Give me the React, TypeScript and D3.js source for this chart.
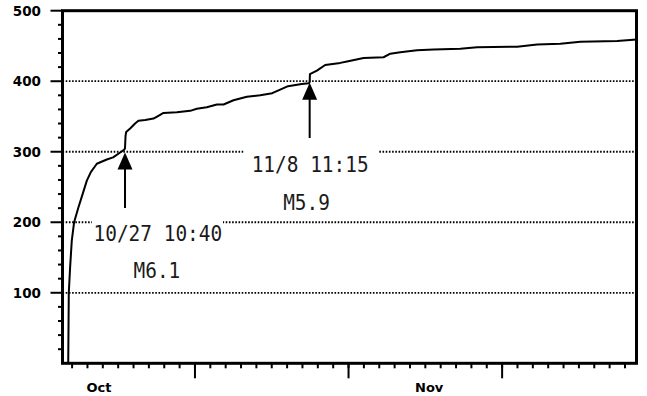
import React from "react";
import * as d3 from "d3";

// cumulative count of aftershocks
const times = [
  "2004-10-23T17:56", "2004-10-23T18:50", "2004-10-23T20:53", "2004-10-23T23:31",
  "2004-10-24T03:07", "2004-10-24T09:50", "2004-10-24T16:48", "2004-10-24T23:02",
  "2004-10-25T05:17", "2004-10-25T14:38", "2004-10-26T06:14", "2004-10-26T16:05",
  "2004-10-27T03:07", "2004-10-27T09:36", "2004-10-27T10:40", "2004-10-27T11:30",
  "2004-10-27T12:29", "2004-10-27T18:43", "2004-10-28T02:24", "2004-10-28T07:41",
  "2004-10-28T18:14", "2004-10-29T07:12", "2004-10-29T14:53", "2004-10-29T22:48",
  "2004-10-30T19:41", "2004-10-31T16:34", "2004-11-01T02:53", "2004-11-01T18:29",
  "2004-11-02T10:19", "2004-11-02T20:38", "2004-11-03T12:14", "2004-11-04T09:07",
  "2004-11-05T06:00", "2004-11-06T00:43", "2004-11-06T13:12", "2004-11-07T01:26",
  "2004-11-07T22:48", "2004-11-08T10:00", "2004-11-08T11:15", "2004-11-08T11:40",
  "2004-11-08T22:34", "2004-11-09T11:31", "2004-11-10T11:02", "2004-11-10T21:36",
  "2004-11-11T23:31", "2004-11-13T06:43", "2004-11-13T17:17", "2004-11-14T08:53",
  "2004-11-15T11:02", "2004-11-16T12:58", "2004-11-18T06:43", "2004-11-19T08:53",
  "2004-11-21T23:31", "2004-11-23T06:43", "2004-11-24T18:58", "2004-11-26T02:24",
  "2004-11-28T11:46", "2004-11-29T18:00",
];
const counts = [
  0, 100, 136, 174,
  200, 221, 241, 259,
  271, 283, 289, 292,
  299, 303, 305, 322,
  328, 333, 340, 344,
  345, 347, 351, 355,
  356, 358, 361, 363,
  367, 367, 373, 378,
  380, 383, 388, 393,
  396, 397, 399, 410,
  415, 423, 426, 428,
  433, 434, 439, 441,
  444, 445, 446, 448,
  449, 452, 453, 456,
  457, 459,
];

const xDomain = ["2004-10-23T09:00", "2004-11-29T18:00"];
const yDomain = [0, 500];
const yMajorTicks = [100, 200, 300, 400, 500];
const yGridValues = [100, 200, 300, 400];
const xMajorTickDates = ["2004-11-01T00:00", "2004-11-11T00:00", "2004-11-21T00:00"];
const monthLabels = ["Oct", "Nov"];
const monthLabelDates = ["2004-10-25T18:00", "2004-11-16T06:00"];

const quakeTimes = ["2004-10-27T10:40", "2004-11-08T11:15"];
const quakeTipValues = [299, 398];
const quakeDateLabels = ["10/27 10:40", "11/8 11:15"];
const quakeMagLabels = ["M6.1", "M5.9"];

const W = 647;
const H = 396;
const L = 62.5, R = 636.5, T = 10.7, B = 363.3;

const parse = d3.utcParse("%Y-%m-%dT%H:%M");

// annotation layout (offsets relative to arrow x)
const annLayout = [
  { box: [-33, 210, 131, 74], shaftEnd: 208, dateX: -31.5, dateY: 240.5, magX: 8.5, magY: 278 },
  { box: [-66, 140, 135, 74], shaftEnd: 138, dateX: -58, dateY: 172, magX: -26.5, magY: 209.5 },
];

export default function App() {
  const x = d3.scaleUtc().domain(xDomain.map((s) => parse(s)!)).range([L, R]);
  const y = d3.scaleLinear().domain(yDomain).range([B, T]);

  const data = times.map((t, i) => ({ t: parse(t)!, v: counts[i] }));
  const line = d3
    .line<{ t: Date; v: number }>()
    .x((d) => x(d.t))
    .y((d) => y(d.v));

  const [d0, d1] = x.domain();
  const dayTicks = d3.utcDay.range(d3.utcDay.ceil(d0), d1);
  const yMinor = d3.range(20, 500, 20).filter((v) => v % 100 !== 0);
  const majorDates = xMajorTickDates.map((s) => parse(s)!);

  const labelFont = "'DejaVu Sans', Verdana, sans-serif";
  const monoFont = "'DejaVu Sans Mono', 'Liberation Mono', monospace";
  const charW = 11.7;

  return (
    <svg
      width={W}
      height={H}
      style={{ position: "absolute", left: 0, top: 0, background: "#fff" }}
    >
      <rect x={0} y={0} width={W} height={H} fill="#fff" />
      {/* grid */}
      {yGridValues.map((v) => (
        <line
          key={"g" + v}
          x1={L}
          x2={R}
          y1={y(v)}
          y2={y(v)}
          stroke="#000"
          strokeWidth={1.8}
          strokeDasharray="1.6,1.6"
        />
      ))}
      {/* data line */}
      <path d={line(data) || ""} fill="none" stroke="#000" strokeWidth={2} strokeLinejoin="round" />

      {/* annotations */}
      {quakeTimes.map((qt, i) => {
        const ax = x(parse(qt)!);
        const tipY = y(quakeTipValues[i]);
        const lay = annLayout[i];
        const baseY = tipY + 17;
        return (
          <g key={"a" + i}>
            <rect
              x={ax + lay.box[0]}
              y={lay.box[1]}
              width={lay.box[2]}
              height={lay.box[3]}
              fill="#fff"
            />
            <line x1={ax} x2={ax} y1={baseY - 1} y2={lay.shaftEnd} stroke="#000" strokeWidth={2} />
            <path
              d={`M${ax},${tipY} L${ax - 7.5},${baseY} L${ax + 7.5},${baseY} Z`}
              fill="#000"
            />
            <text
              x={ax + lay.dateX}
              y={lay.dateY}
              fontFamily={monoFont}
              fontSize={22}
              fill="#1a1a1a"
              textLength={quakeDateLabels[i].length * charW}
              lengthAdjust="spacingAndGlyphs"
            >
              {quakeDateLabels[i]}
            </text>
            <text
              x={ax + lay.magX}
              y={lay.magY}
              fontFamily={monoFont}
              fontSize={22}
              fill="#1a1a1a"
              textLength={quakeMagLabels[i].length * charW}
              lengthAdjust="spacingAndGlyphs"
            >
              {quakeMagLabels[i]}
            </text>
          </g>
        );
      })}

      {/* y ticks */}
      {yMinor.map((v) => (
        <line key={"ym" + v} x1={L - 4.5} x2={L} y1={y(v)} y2={y(v)} stroke="#000" strokeWidth={2} />
      ))}
      {yMajorTicks.map((v) => (
        <g key={"yM" + v}>
          <line x1={L - 12} x2={L} y1={y(v)} y2={y(v)} stroke="#000" strokeWidth={2} />
          <text
            x={41}
            y={y(v)}
            dy="0.36em"
            textAnchor="end"
            fontFamily={labelFont}
            fontWeight="bold"
            fontSize={13.5}
            fill="#000"
          >
            {v}
          </text>
        </g>
      ))}

      {/* x ticks */}
      {dayTicks.map((d) => (
        <line
          key={"xm" + d.getTime()}
          x1={x(d)}
          x2={x(d)}
          y1={B}
          y2={B + 5}
          stroke="#000"
          strokeWidth={2}
        />
      ))}
      {majorDates.map((d) => (
        <line
          key={"xM" + d.getTime()}
          x1={x(d)}
          x2={x(d)}
          y1={B}
          y2={B + 15}
          stroke="#000"
          strokeWidth={2}
        />
      ))}
      {monthLabels.map((m, i) => (
        <text
          key={m}
          x={x(parse(monthLabelDates[i])!)}
          y={392}
          textAnchor="middle"
          fontFamily={labelFont}
          fontWeight="bold"
          fontSize={13}
          fill="#000"
        >
          {m}
        </text>
      ))}

      {/* frame */}
      <rect x={L} y={T} width={R - L} height={B - T} fill="none" stroke="#000" strokeWidth={3} />
    </svg>
  );
}
